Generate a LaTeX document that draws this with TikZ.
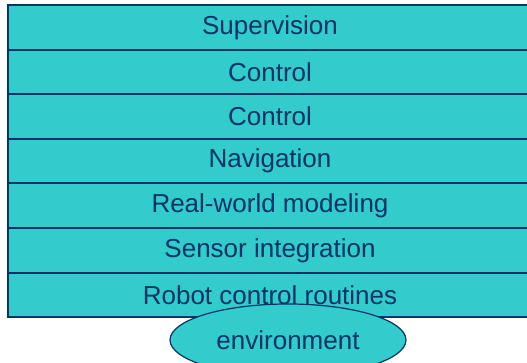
\documentclass[tikz,border=0pt]{standalone}
\usepackage{fontspec}
\setmainfont{Liberation Sans}
\usepackage{xcolor}
\usetikzlibrary{shapes.geometric}
\definecolor{layerfill}{HTML}{33CCCC}
\definecolor{layerline}{HTML}{003366}

\begin{document}
\begin{tikzpicture}[x=1pt,y=1pt,
  layer/.style={draw=layerline, line width=2pt, fill=layerfill, text=layerline,
    minimum width=524pt, minimum height=44.6pt, inner sep=0pt, font=\fontsize{26}{30}\selectfont},
  world/.style={ellipse, draw=layerline, line width=1.2pt, fill=layerfill, text=layerline,
    minimum width=236pt, minimum height=72pt, inner sep=0pt, font=\fontsize{26}{30}\selectfont}]
\useasboundingbox (0,0) rectangle (527,363);
\clip (0,0) rectangle (527,363);
\foreach \name/\txt [count=\i] in {sup/Supervision, ctrlA/Control, ctrlB/Control, nav/Navigation, model/Real-world modeling, sensor/Sensor integration, robot/Robot control routines}
{	\node[layer] (\name) at (270,358-44.6*\i+22.3) {\txt};
}
\node[world] (env) at (288,23) {environment};
\end{tikzpicture}
\end{document}
